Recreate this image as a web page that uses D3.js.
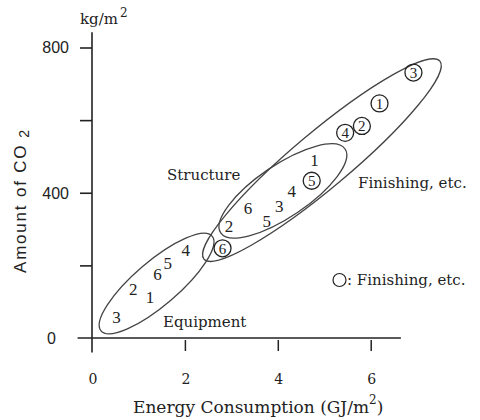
<!DOCTYPE html>
<html>
<head>
<meta charset="utf-8">
<script src="https://cdn.jsdelivr.net/npm/d3@7"></script>
<style>
  body { margin: 0; background: #fff; }
  svg { display: block; }
  .serif { font-family: "DejaVu Serif", serif; fill: #222; }
  .num { font-family: "Liberation Serif", serif; fill: #222; }
  .sans { font-family: "Liberation Sans", Arial, sans-serif; fill: #222; }
</style>
</head>
<body>
<div id="chart"></div>
<script>
// values (energy GJ/m2, CO2 kg/m2)
const equipLabels = ["3", "2", "1", "6", "5", "4"];
const equipEnergy = [0.53, 0.89, 1.25, 1.41, 1.63, 2.02];
const equipCO2    = [59, 135, 114, 176, 207, 242];

const structLabels = ["2", "6", "5", "3", "4", "1"];
const structEnergy = [2.95, 3.36, 3.76, 4.03, 4.30, 4.79];
const structCO2    = [308, 358, 323, 362, 405, 490];

const finLabels = ["6", "5", "4", "2", "1", "3"];
const finEnergy = [2.81, 4.73, 5.45, 5.81, 6.19, 6.92];
const finCO2    = [247, 433, 565, 584, 646, 731];

const xTicks = [0, 2, 4, 6];
const yTicks = [200, 400, 600, 800];
const yTickLabels = [0, 400, 800];

// grouping ellipses: centre in data units
const groupNames = ["Equipment", "Structure", "Finishing, etc."];
const groupCenterX = [1.39, 4.11, 4.95];
const groupCenterY = [150, 405, 490];

function main(){
    const width = 480, height = 420;
    const svg = d3.select("#chart").append("svg")
        .attr("width", width)
        .attr("height", height);

    svg.append("rect").attr("width", width).attr("height", height).attr("fill", "#fff");

    const x = d3.scaleLinear().domain([0, 6]).range([92, 370.7]);
    const y = d3.scaleLinear().domain([0, 800]).range([338, 47.5]);

    // axes lines
    svg.append("line")
        .attr("x1", x(-0.31)).attr("x2", x(6.65))
        .attr("y1", y(0)).attr("y2", y(0))
        .attr("stroke", "#222").attr("stroke-width", 1.6);
    svg.append("line")
        .attr("x1", x(0)).attr("x2", x(0))
        .attr("y1", y(-40)).attr("y2", y(842))
        .attr("stroke", "#222").attr("stroke-width", 1.6);

    // x axis ticks
    const xAxis = d3.axisBottom(x).tickValues(xTicks.filter(d => d > 0))
        .tickSize(11).tickFormat("");
    const gx = svg.append("g").attr("transform", `translate(0,${y(0) + 2})`).call(xAxis);
    gx.select(".domain").remove();
    gx.selectAll(".tick line").attr("stroke", "#222").attr("stroke-width", 1.5);

    svg.selectAll(".xlab")
        .data(xTicks)
        .enter()
        .append("text")
        .attr("class", "serif")
        .attr("x", d => x(d) + 1)
        .attr("y", 384)
        .attr("text-anchor", "middle")
        .attr("font-size", 14)
        .text(d => d);

    // y axis ticks
    const yAxis = d3.axisLeft(y).tickValues(yTicks).tickSize(12).tickFormat("");
    const gy = svg.append("g").attr("transform", `translate(${x(0)},0)`).call(yAxis);
    gy.select(".domain").remove();
    gy.selectAll(".tick line").attr("stroke", "#222").attr("stroke-width", 1.6);

    svg.selectAll(".ylab")
        .data(yTickLabels)
        .enter()
        .append("text")
        .attr("class", "sans")
        .attr("x", d => d == 0 ? 56 : 69)
        .attr("y", d => y(d))
        .attr("dy", "0.36em")
        .attr("text-anchor", "end")
        .attr("font-size", 16)
        .text(d => d);

    // unit at top of y axis
    const unit = svg.append("text").attr("class", "serif")
        .attr("x", 80).attr("y", 24).attr("font-size", 15);
    unit.append("tspan").text("kg/m");
    unit.append("tspan").attr("dx", 2).attr("dy", -7).attr("font-size", 12).text("2");

    // axis titles
    const xt = svg.append("text").attr("class", "serif")
        .attr("x", 133).attr("y", 413).attr("font-size", 17);
    xt.append("tspan").text("Energy Consumption (GJ/m");
    xt.append("tspan").attr("dy", -9).attr("font-size", 12).text("2");
    xt.append("tspan").attr("dy", 9).text(")");

    const yt = svg.append("text").attr("class", "sans")
        .attr("transform", "translate(26,273) rotate(-90)")
        .attr("font-size", 17)
        .attr("letter-spacing", 1.8);
    yt.append("tspan").text("Amount of CO");
    yt.append("tspan").attr("dx", 6).attr("dy", 3).attr("font-size", 14).text("2");

    // ellipses
    const shapeA = [73, 75, 154];
    const shapeB = [22, 26, 28];
    const shapeAngle = [40.5, 34, 40];
    svg.selectAll(".grp")
        .data(groupNames)
        .enter()
        .append("ellipse")
        .attr("transform", (d, i) => `translate(${x(groupCenterX[i])},${y(groupCenterY[i])}) rotate(${-shapeAngle[i]})`)
        .attr("rx", (d, i) => shapeA[i])
        .attr("ry", (d, i) => shapeB[i])
        .attr("fill", "none")
        .attr("stroke", "#444")
        .attr("stroke-width", 1.3);

    // plain numbers
    const plain = equipLabels.map((l, i) => ({l: l, e: equipEnergy[i], c: equipCO2[i]}))
        .concat(structLabels.map((l, i) => ({l: l, e: structEnergy[i], c: structCO2[i]})));
    svg.selectAll(".pt")
        .data(plain)
        .enter()
        .append("text")
        .attr("class", "num")
        .attr("x", d => x(d.e))
        .attr("y", d => y(d.c))
        .attr("dy", "0.35em")
        .attr("text-anchor", "middle")
        .attr("font-size", 17)
        .text(d => d.l);

    // circled numbers
    const circ = finLabels.map((l, i) => ({l: l, e: finEnergy[i], c: finCO2[i]}));
    const cg = svg.selectAll(".cpt")
        .data(circ)
        .enter()
        .append("g")
        .attr("transform", d => `translate(${x(d.e)},${y(d.c)})`);
    cg.append("circle").attr("r", 8.5).attr("fill", "none").attr("stroke", "#222").attr("stroke-width", 1.3);
    cg.append("text")
        .attr("class", "num")
        .attr("dy", "0.35em")
        .attr("text-anchor", "middle")
        .attr("font-size", 15)
        .text(d => d.l);

    // group labels
    const labX = [163, 167, 358];
    const labY = [327, 180, 188];
    svg.selectAll(".glab")
        .data(groupNames)
        .enter()
        .append("text")
        .attr("class", "serif")
        .attr("x", (d, i) => labX[i])
        .attr("y", (d, i) => labY[i])
        .attr("font-size", 15)
        .text(d => d);

    // legend
    svg.append("circle").attr("cx", 339.5).attr("cy", 280).attr("r", 6.5)
        .attr("fill", "none").attr("stroke", "#222").attr("stroke-width", 1.2);
    svg.append("text").attr("class", "serif")
        .attr("x", 347).attr("y", 285).attr("font-size", 15)
        .text(": Finishing, etc.");
}

main();
</script>
</body>
</html>
